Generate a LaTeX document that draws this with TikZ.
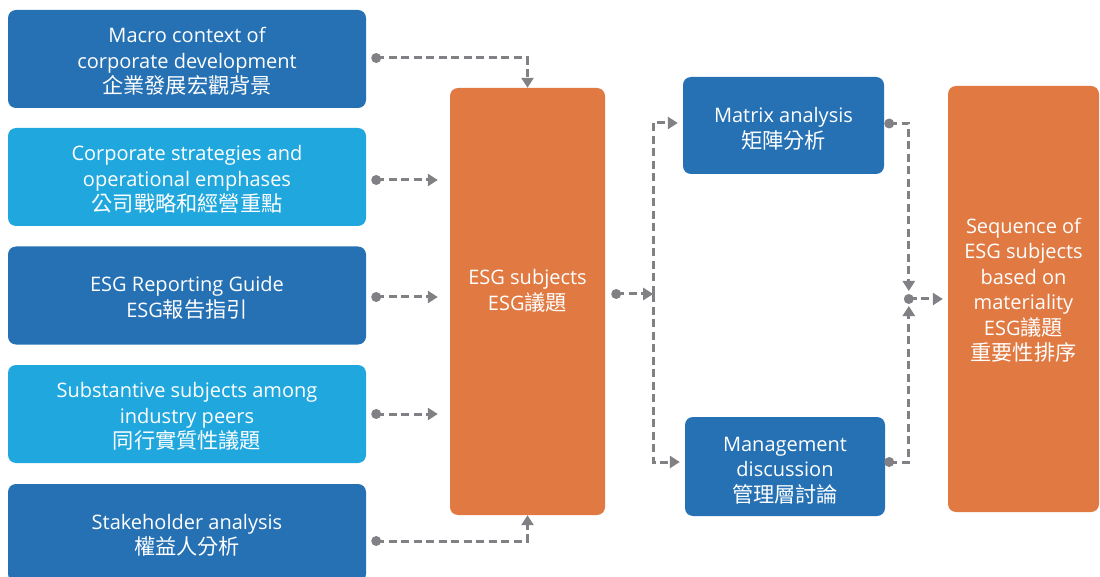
\documentclass[tikz,border=0pt]{standalone}
\usepackage{fontspec}
\setmainfont{Open Sans}
\newfontfamily\cjk[Scale=1.06]{Noto Sans CJK TC}
\usetikzlibrary{arrows.meta}
\definecolor{dblue}{RGB}{37,113,180}
\definecolor{lblue}{RGB}{32,168,222}
\definecolor{orng}{RGB}{224,122,66}
\definecolor{lgray}{RGB}{128,128,133}
\newcommand\toppad[1]{\rule{0pt}{#1}}
\tikzset{
  box/.style={rounded corners=8pt, text=white, align=center, inner sep=0pt,
    font=\fontsize{20}{25.5}\selectfont},
  leftbox/.style={box, minimum width=358pt, minimum height=98pt},
  conn/.style={draw=lgray, line width=3pt, dash pattern=on 8pt off 4.5pt,
    -{Triangle[length=10pt,width=12pt]}},
  dotc/.style={fill=lgray}
}
\begin{document}
\begin{tikzpicture}[x=1pt,y=-1pt]
\useasboundingbox (0,0) rectangle (1100,577);
% left boxes
\node[leftbox, fill=dblue] (m1) at (187,59) {\toppad{20pt}Macro context of\\corporate development\\{\cjk 企業發展宏觀背景}};
\node[leftbox, fill=lblue] (m2) at (187,177) {\toppad{20pt}Corporate strategies and\\operational emphases\\{\cjk 公司戰略和經營重點}};
\node[leftbox, fill=dblue] (m3) at (187,295.5) {\toppad{20pt}ESG Reporting Guide\\ESG{\cjk 報告指引}};
\node[leftbox, fill=lblue] (m4) at (187,414) {\toppad{20pt}Substantive subjects among\\industry peers\\{\cjk 同行實質性議題}};
\node[leftbox, fill=dblue] (m5) at (187,533) {\toppad{20pt}Stakeholder analysis\\{\cjk 權益人分析}};
% centre
\node[box, fill=orng, minimum width=155pt, minimum height=427pt] (esg) at (527.5,301.5) {ESG subjects\\ESG{\cjk 議題}\\[-2pt]};
\node[box, fill=dblue, minimum width=201pt, minimum height=97pt] (mat) at (783.5,125.5) {\toppad{22pt}Matrix analysis\\{\cjk 矩陣分析}};
\node[box, fill=dblue, minimum width=200pt, minimum height=99pt] (mg) at (785,466.5) {\toppad{22pt}Management\\discussion\\{\cjk 管理層討論}};
\node[box, fill=orng, minimum width=151pt, minimum height=426pt] (seq) at (1023.5,299) {Sequence of\\ESG subjects\\based on\\materiality\\ESG{\cjk 議題}\\{\cjk 重要性排序}\\[-6pt]};
% coordinates
\coordinate (d1) at ([xshift=10pt,yshift=1pt]m1.east);
\coordinate (d2) at ([xshift=10pt,yshift=-3pt]m2.east);
\coordinate (d3) at ([xshift=10pt,yshift=-1.5pt]m3.east);
\coordinate (d4) at ([xshift=10pt]m4.east);
\coordinate (d5) at ([xshift=10pt,yshift=-8pt]m5.east);
\coordinate (de) at ([xshift=11pt,yshift=7.5pt]esg.east);
\coordinate (j) at ([xshift=37pt]de);
\coordinate (dm) at ([xshift=5pt,yshift=2pt]mat.east);
\coordinate (dg) at ([xshift=4pt,yshift=4.5pt]mg.east);
\coordinate (k) at ([xshift=-39pt]seq.west);
% connectors
\draw[conn] (d1) -| (esg.north);
\draw[conn, shorten >=12pt] (d2) -- (d2 -| esg.west);
\draw[conn, shorten >=12pt] (d3) -- (d3 -| esg.west);
\draw[conn, shorten >=12pt] (d4) -- (d4 -| esg.west);
\draw[conn] (d5) -| (esg.south);
\draw[conn] (de) -- (j);
\draw[conn, shorten >=5pt] (j) |- ([yshift=2.5pt]mat.west);
\draw[conn, shorten >=5pt] (j) |- ([yshift=4.5pt]mg.west);
\draw[conn] (dm) -| ([yshift=8pt]k);
\draw[conn] (dg) -| ([yshift=-7pt]k);
\draw[conn, shorten >=5pt] (k) -- (seq.west);
% dots
\foreach \p in {d1,d2,d3,d4,d5,de,dm,dg,k} \fill[dotc] (\p) circle (5pt);
\end{tikzpicture}
\end{document}
